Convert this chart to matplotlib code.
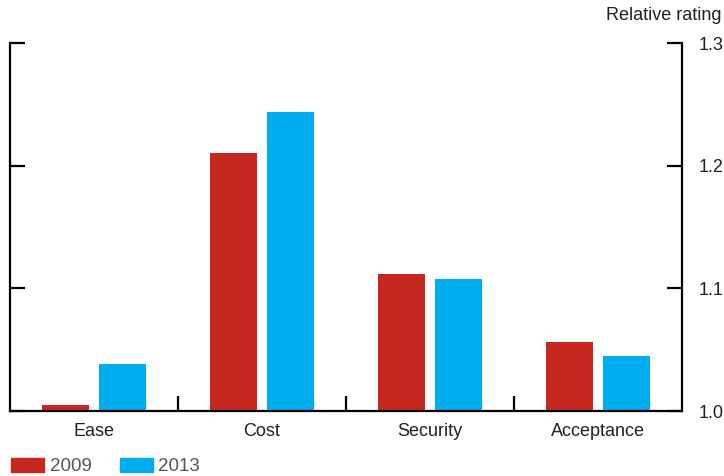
import matplotlib.pyplot as plt
import numpy as np
from matplotlib.patches import Patch

plt.rcParams["font.family"] = ["Liberation Sans", "DejaVu Sans"]

categories = ["Ease", "Cost", "Security", "Acceptance"]
years = ["2009", "2013"]
values_2009 = [1.005, 1.210, 1.112, 1.056]
values_2013 = [1.038, 1.244, 1.108, 1.045]
colors = ["#c4281f", "#00aeef"]

fig = plt.figure(figsize=(7.24, 4.76), dpi=100)
ax = fig.add_axes([10 / 724, 65 / 476, 672 / 724, 368 / 476])

x = np.arange(len(categories))
width = 0.28
gap = 0.054
ax.bar(x - (width + gap) / 2, np.array(values_2009) - 1.0, width, bottom=1.0,
       color=colors[0])
ax.bar(x + (width + gap) / 2, np.array(values_2013) - 1.0, width, bottom=1.0,
       color=colors[1])

ax.set_xlim(-0.5, len(categories) - 0.5)
ax.set_ylim(1.0, 1.3)

ax.spines["top"].set_visible(False)
for side in ["left", "right", "bottom"]:
    ax.spines[side].set_linewidth(1.6)

ax.set_yticks([1.0, 1.1, 1.2, 1.3])
ax.yaxis.set_ticks_position("both")
ax.tick_params(axis="y", direction="in", length=11, width=1.6,
               labelleft=False, labelright=True, labelsize=13,
               labelcolor="#231f20", pad=12)
ax.yaxis.set_major_formatter(plt.FormatStrFormatter("%.1f"))

# category separators as minor ticks, labels on major
ax.set_xticks(x)
ax.set_xticklabels(categories)
ax.set_xticks(x[:-1] + 0.5, minor=True)
ax.tick_params(axis="x", which="major", length=0, labelsize=13,
               labelcolor="#231f20", pad=9)
ax.tick_params(axis="x", which="minor", direction="in", length=11, width=1.6)

fig.text(722 / 724, 1 - 16 / 476, "Relative rating", ha="right", va="center",
         fontsize=13, color="#231f20")

handles = [Patch(color=c) for c in colors]
fig.legend(handles, years, loc="lower left", bbox_to_anchor=(0.0, -0.022),
           ncol=2, frameon=False, fontsize=13.5, handlelength=1.75,
           handleheight=0.8, handletextpad=0.3, columnspacing=1.5,
           labelcolor="#555555", borderaxespad=0.3, borderpad=0.3)

fig.savefig("out.png", dpi=100)
